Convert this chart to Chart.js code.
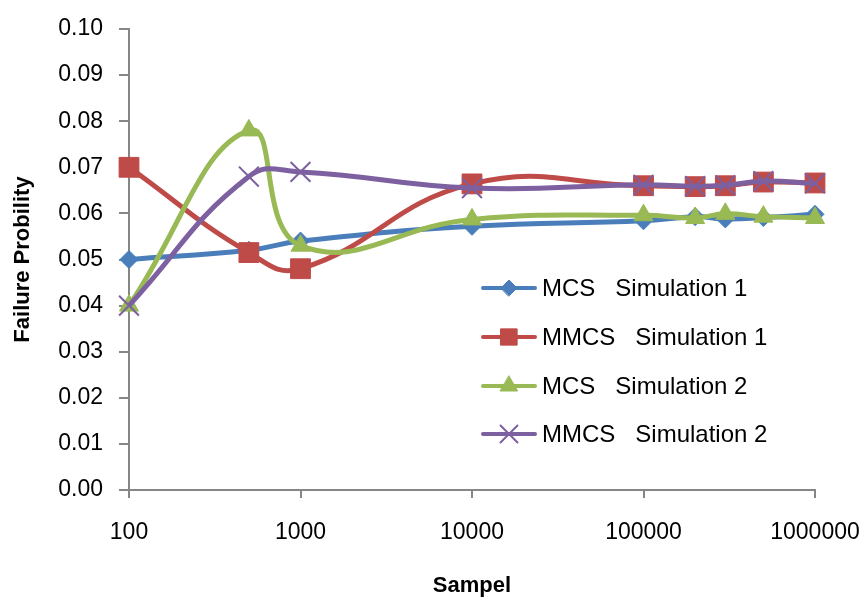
<!DOCTYPE html>
<html>
<head>
<meta charset="utf-8">
<script src="https://cdn.jsdelivr.net/npm/chart.js@4/dist/chart.umd.min.js"></script>
<style>
  body { margin: 0; background: #fff; }
  #wrap { width: 863px; height: 597px; }
</style>
</head>
<body>
<div id="wrap"><canvas id="chart_fail" width="863" height="597"></canvas></div>
<script>
// Data
const samples = [100, 500, 1000, 10000, 100000, 200000, 300000, 500000, 1000000];
const xTicks = [100, 1000, 10000, 100000, 1000000];
const seriesNames = ['MCS   Simulation 1', 'MMCS   Simulation 1', 'MCS   Simulation 2', 'MMCS   Simulation 2'];
const mcs_sim1 = [0.050, 0.052, 0.054, 0.0572, 0.0584, 0.0593, 0.0588, 0.0591, 0.0598];
const mmcs_sim1 = [0.070, 0.0515, 0.048, 0.0664, 0.0660, 0.0658, 0.0660, 0.0668, 0.0666];
const mcs_sim2 = [0.040, 0.078, 0.053, 0.0587, 0.0596, 0.0590, 0.0599, 0.0593, 0.0590];
const mmcs_sim2 = [0.040, 0.068, 0.069, 0.0655, 0.0662, 0.0659, 0.0661, 0.0670, 0.0665];

const FONT = "'Liberation Sans', Arial, sans-serif";
const axisGrey = '#868686';

const toPoints = (vals) => vals.map((v, i) => ({ x: samples[i], y: v }));

const styles = [
    { color: '#4A7EBB', point: 'rectRot', r: 9, lr: 8 },
    { color: '#BE4B48', point: 'rect', r: 14, lr: 11.5 },
    { color: '#98B954', point: 'triangle', r: 11, lr: 10 },
    { color: '#7D60A0', point: 'crossRot', r: 14, lr: 12 }
];

const allSeries = [mcs_sim1, mmcs_sim1, mcs_sim2, mmcs_sim2];

const datasets = allSeries.map((vals, i) => ({
    label: seriesNames[i],
    data: toPoints(vals),
    borderColor: styles[i].color,
    backgroundColor: styles[i].color,
    borderWidth: 5,
    tension: 0.45,
    fill: false,
    clip: false,
    pointStyle: styles[i].point,
    pointRadius: styles[i].r,
    pointHoverRadius: styles[i].r,
    pointBorderColor: styles[i].color,
    pointBackgroundColor: styles[i].color,
    pointBorderWidth: styles[i].point === 'crossRot' ? 2 : 1,
    order: 3 - i
}));

// legend drawn inside the plot, like the original
const insideLegend = {
    id: 'insideLegend',
    afterDraw(chart) {
        const ctx = chart.ctx;
        const rows = [288, 337, 386, 434];
        ctx.save();
        chart.data.datasets.forEach((ds, i) => {
            const y = rows[i];
            ctx.strokeStyle = ds.borderColor;
            ctx.lineWidth = 4;
            ctx.lineCap = 'round';
            ctx.beginPath();
            ctx.moveTo(483, y);
            ctx.lineTo(535, y);
            ctx.stroke();
            ctx.fillStyle = ds.borderColor;
            ctx.lineWidth = ds.pointBorderWidth;
            Chart.helpers.drawPoint(ctx, {
                pointStyle: ds.pointStyle,
                radius: styles[i].lr,
                rotation: 0,
                borderWidth: ds.pointBorderWidth
            }, 509, y);
            ctx.fillStyle = '#000';
            ctx.font = '24px ' + FONT;
            ctx.textBaseline = 'middle';
            ctx.textAlign = 'left';
            ctx.fillText(ds.label, 542, y + 1);
        });
        ctx.restore();
    }
};

new Chart(document.getElementById('chart_fail'), {
    type: 'line',
    data: { datasets: datasets },
    plugins: [insideLegend],
    options: {
        responsive: false,
        animation: false,
        devicePixelRatio: 1,
        layout: {
            padding: { top: 29, right: 48, left: 0, bottom: 0 }
        },
        plugins: {
            legend: { display: false },
            tooltip: { enabled: false }
        },
        scales: {
            x: {
                type: 'logarithmic',
                min: 100,
                max: 1000000,
                afterBuildTicks: (scale) => {
                    scale.ticks = xTicks.map(v => ({ value: v }));
                },
                afterFit: (scale) => {
                    scale.height = 107;
                    scale.paddingLeft = 0;
                    scale.paddingRight = 0;
                },
                border: { color: axisGrey, width: 2 },
                grid: {
                    drawOnChartArea: false,
                    drawTicks: true,
                    tickLength: 8,
                    color: axisGrey,
                    lineWidth: 2
                },
                ticks: {
                    autoSkip: false,
                    maxRotation: 0,
                    padding: 21,
                    color: '#000',
                    font: { family: FONT, size: 23 },
                    callback: (v) => String(v)
                },
                title: {
                    display: true,
                    text: 'Sampel',
                    color: '#000',
                    padding: { top: 0, bottom: 0 },
                    font: { family: FONT, size: 22, weight: 'bold', lineHeight: 1 }
                }
            },
            y: {
                min: 0,
                max: 0.1,
                afterFit: (scale) => {
                    scale.width = 129;
                    scale.paddingTop = 0;
                    scale.paddingBottom = 0;
                },
                border: { color: axisGrey, width: 2 },
                grid: {
                    drawOnChartArea: false,
                    drawTicks: true,
                    tickLength: 10,
                    color: axisGrey,
                    lineWidth: 2
                },
                ticks: {
                    stepSize: 0.01,
                    padding: 16,
                    color: '#000',
                    font: { family: FONT, size: 23 },
                    callback: (v) => v.toFixed(2)
                },
                title: {
                    display: true,
                    text: 'Failure Probility',
                    color: '#000',
                    padding: { top: 10, bottom: 0 },
                    font: { family: FONT, size: 22, weight: 'bold' }
                }
            }
        }
    }
});
</script>
</body>
</html>
